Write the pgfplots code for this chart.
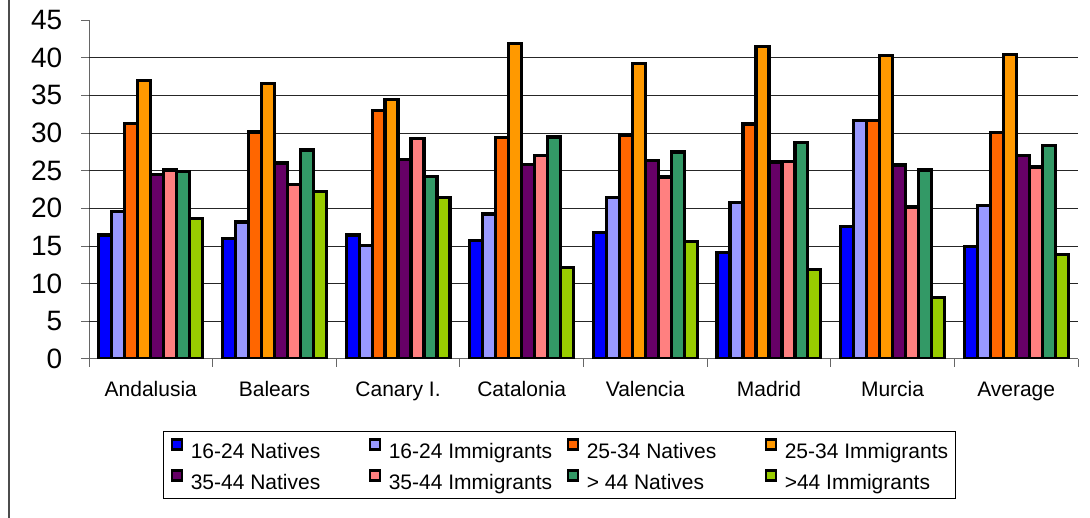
\documentclass[border=0pt]{standalone}
\usepackage{fontspec}
\setmainfont{Liberation Sans}
\usepackage{pgfplots}
\pgfplotsset{compat=1.18}

\definecolor{cA}{HTML}{0000FF}
\definecolor{cB}{HTML}{9999FF}
\definecolor{cC}{HTML}{FF6600}
\definecolor{cD}{HTML}{FF9900}
\definecolor{cE}{HTML}{660066}
\definecolor{cF}{HTML}{FF8080}
\definecolor{cG}{HTML}{339966}
\definecolor{cH}{HTML}{99CC00}

% square legend swatch with a black frame, followed by a small gap
\pgfplotsset{
  swatch legend/.style={
    /pgfplots/legend image code/.code={
      \path[fill=black, draw=none] (0pt,1pt) rectangle (9.5pt,10.5pt);
      \path[fill=#1, draw=none] (2pt,3pt) rectangle (7.5pt,8.5pt);
      \path[draw=none, fill=none] (15pt,0pt);
    }},
  barplot/.style={ybar, bar width=0.105, fill=#1, draw=black,
    /tikz/line width=2.4pt, swatch legend=#1},
}

\begin{document}
\begin{tikzpicture}[x=1pt,y=1pt]
\path[use as bounding box] (0,0) rectangle (817.5,388.5);
\draw[black!70, line width=0.9pt] (6.75,0) -- (6.75,388.5);
\begin{axis}[
  at={(66.75pt,119.25pt)}, anchor=south west,
  scale only axis, width=741.75pt, height=254.25pt,
  xmin=-0.5, xmax=7.5, ymin=0, ymax=45,
  axis lines*=left,
  axis line style={black!60, line width=0.75pt},
  xtick={-0.5,0.5,...,7.5},
  x tick label as interval,
  xticklabels={Andalusia,Balears,Canary I.,Catalonia,Valencia,Madrid,Murcia,Average},
  ytick={0,5,...,45},
  tick align=outside, major tick length=6pt,
  tick style={black!60, line width=0.75pt},
  extra y ticks={5,10,...,40},
  extra y tick labels={},
  extra y tick style={grid=major, major tick length=0pt,
    major grid style={black!85, line width=0.75pt}},
  /pgf/number format/assume math mode=true,
  yticklabel style={font=\fontsize{21}{25}\selectfont, xshift=-10.5pt},
  xticklabel style={font=\fontsize{15.75}{18}\selectfont, yshift=-7.5pt},
  legend columns=4,
  legend cell align=left,
  legend style={at={(0.0748,-0.2124)}, anchor=north west,
    draw=black, line width=0.75pt,
    inner xsep=5.5pt, inner ysep=5pt,
    font=\fontsize{15.75}{18}\selectfont,
    nodes={inner sep=0pt, text height=11.5pt, text depth=2pt},
    row sep=6pt,
    /tikz/every even column/.append style={column sep=0pt}},
]
% 16-24 Natives
\addplot[barplot=cA, bar shift=-0.3675] coordinates
  {(0,16.45) (1,15.96) (2,16.45) (3,15.69) (4,16.8) (5,14.18) (6,17.64) (7,14.98)};
% 16-24 Immigrants
\addplot[barplot=cB, bar shift=-0.2625] coordinates
  {(0,19.6) (1,18.18) (2,15.07) (3,19.24) (4,21.45) (5,20.79) (6,31.69) (7,20.39)};
% 25-34 Natives
\addplot[barplot=cC, bar shift=-0.1575] coordinates
  {(0,31.25) (1,30.14) (2,32.94) (3,29.39) (4,29.74) (5,31.2) (6,31.69) (7,30.05)};
% 25-34 Immigrants
\addplot[barplot=cD, bar shift=-0.0525] coordinates
  {(0,36.97) (1,36.57) (2,34.44) (3,41.89) (4,39.18) (5,41.49) (6,40.25) (7,40.38)};
% 35-44 Natives
\addplot[barplot=cE, bar shift=0.0525] coordinates
  {(0,24.47) (1,26.02) (2,26.46) (3,25.8) (4,26.37) (5,26.15) (6,25.75) (7,27.0)};
% 35-44 Immigrants
\addplot[barplot=cF, bar shift=0.1575] coordinates
  {(0,25.09) (1,23.14) (2,29.26) (3,27.0) (4,24.16) (5,26.24) (6,20.17) (7,25.49)};
% > 44 Natives
\addplot[barplot=cG, bar shift=0.2625] coordinates
  {(0,24.9) (1,27.75) (2,24.25) (3,29.48) (4,27.48) (5,28.72) (6,25.09) (7,28.32)};
% >44 Immigrants
\addplot[barplot=cH, bar shift=0.3675] coordinates
  {(0,18.6) (1,22.25) (2,21.41) (3,12.14) (4,15.56) (5,11.84) (6,8.15) (7,13.87)};
\legend{\makebox[133.5pt][l]{16-24 Natives},
        \makebox[133.5pt][l]{16-24 Immigrants},
        \makebox[133.5pt][l]{25-34 Natives},
        25-34 Immigrants,
        \makebox[133.5pt][l]{35-44 Natives},
        \makebox[133.5pt][l]{35-44 Immigrants},
        \makebox[133.5pt][l]{> 44 Natives},
        >44 Immigrants}
\end{axis}
\end{tikzpicture}
\end{document}
